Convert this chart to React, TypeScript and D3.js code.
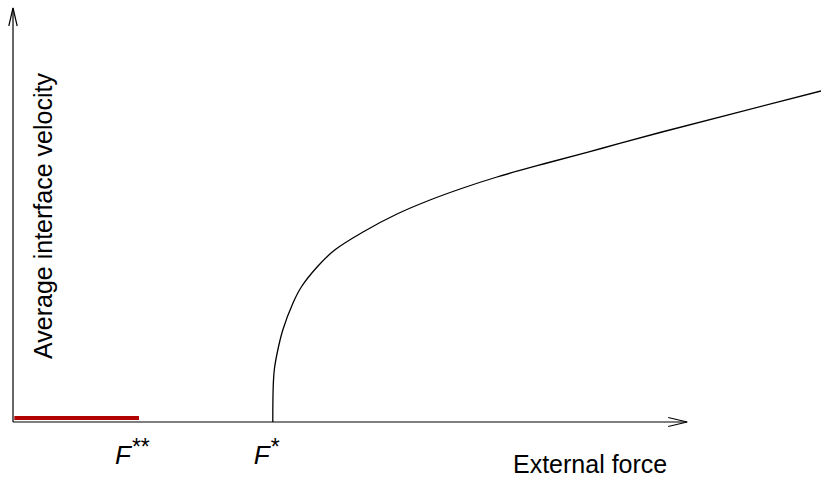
import React from "react";
import * as d3 from "d3";

// external force values (arbitrary units) and average interface velocity
const forceValues = [
  2.0, 2.0008, 2.0046, 2.0123, 2.0385, 2.077, 2.1555, 2.2194, 2.348, 2.4765, 2.6944,
  2.9561, 3.2102, 3.4642, 3.726, 4.1109, 4.542, 4.9808, 6.2202,
];
const velocityValues = [
  0, 0.2, 0.4, 0.53, 0.72, 0.92, 1.19, 1.35, 1.56, 1.72, 1.9,
  2.08, 2.22, 2.34, 2.45, 2.59, 2.74, 2.895, 3.31,
];

// pinned branch: zero velocity up to F**
const pinnedForce = [0.01, 0.97];
const pinnedVelocity = [0.04, 0.04];

const thresholdLabels = [
  { force: 0.97, stars: "**" },
  { force: 2.0, stars: "*" },
];

const xLabel = "External force";
const yLabel = "Average interface velocity";
const xMax = 5.19;
const yMax = 4.14;

const W = 821;
const H = 478;

const App = () => {
  const x = d3.scaleLinear().domain([0, 6.2202]).range([13, 821]);
  const y = d3.scaleLinear().domain([0, yMax]).range([422, 8]);

  const line = d3
    .line<number>()
    .x((_, i) => x(forceValues[i]))
    .y((d) => y(d))
    .curve(d3.curveCatmullRom.alpha(0.5));

  const pinned = d3
    .line<number>()
    .x((_, i) => x(pinnedForce[i]))
    .y((d) => y(d));

  const x0 = x(0);
  const y0 = y(0);
  const xEnd = x(xMax);
  const yEnd = y(yMax);
  const font = "'Liberation Sans', Arial, sans-serif";

  return (
    <svg
      width={W}
      height={H}
      style={{ position: "absolute", left: 0, top: 0, background: "#fff" }}
    >
      {/* axes with open arrow heads */}
      <g stroke="#000" strokeWidth={1.2} fill="none">
        <line x1={x0} y1={y0} x2={xEnd} y2={y0} />
        <polyline points={`${xEnd - 19},${y0 - 4.5} ${xEnd},${y0} ${xEnd - 19},${y0 + 4.5}`} />
        <line x1={x0} y1={y0} x2={x0} y2={yEnd} />
        <polyline points={`${x0 - 4.2},${yEnd + 18} ${x0},${yEnd} ${x0 + 4.2},${yEnd + 18}`} />
      </g>

      <path d={pinned(pinnedVelocity) || ""} stroke="#b00000" strokeWidth={4} fill="none" />
      <path d={line(velocityValues) || ""} stroke="#000" strokeWidth={1.3} fill="none" />

      {thresholdLabels.map((t) => (
        <text
          key={t.stars}
          x={x(t.force) - 24 + (t.stars.length === 1 ? 5 : 0)}
          y={464}
          fontFamily={font}
          fontStyle="italic"
          fontSize={26}
        >
          F
          <tspan fontSize={23} dy={-9} dx={1} fontStyle="normal">
            {t.stars}
          </tspan>
        </text>
      ))}

      <text x={513} y={473} fontFamily={font} fontSize={25}>
        {xLabel}
      </text>
      <text
        transform={`translate(52,216) rotate(-90)`}
        textAnchor="middle"
        fontFamily={font}
        fontSize={25}
      >
        {yLabel}
      </text>
    </svg>
  );
};

export default App;
